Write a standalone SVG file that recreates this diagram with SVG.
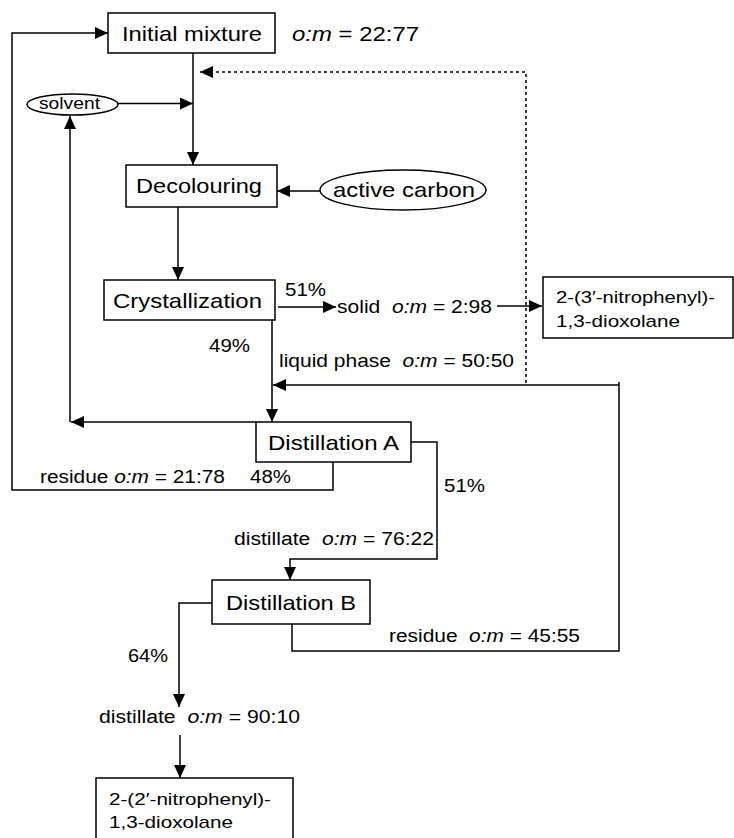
<svg xmlns="http://www.w3.org/2000/svg" width="734" height="838" viewBox="0 0 734 838">
<style>
  text { font-family: "Liberation Sans", Arial, sans-serif; fill: #000; }
  .big { font-size: 21px; }
  .mid { font-size: 18px; }
  .sm { font-size: 17px; }
  .it { font-style: italic; }
  .box { fill: #fff; stroke: #000; stroke-width: 1.5; }
  .ell { fill: #fff; stroke: #000; stroke-width: 1.5; }
  .ln { fill: none; stroke: #000; stroke-width: 1.5; }
  .dot { fill: none; stroke: #000; stroke-width: 1.5; stroke-dasharray: 3 3; }
</style>
<defs>
  <marker id="ah" markerUnits="userSpaceOnUse" markerWidth="13" markerHeight="12" refX="13" refY="6" orient="auto">
    <path d="M0,0 L13,6 L0,12 z" fill="#000"/>
  </marker>
</defs>
<rect width="734" height="838" fill="#fff"/>

<g id="connectors">
  <path class="ln" d="M193,53 V165" marker-end="url(#ah)"/>
  <path class="ln" d="M118,103.5 H193" marker-end="url(#ah)"/>
  <path class="dot" d="M526,383 V72 H200" marker-end="url(#ah)"/>
  <path class="ln" d="M320,191 H277" marker-end="url(#ah)"/>
  <path class="ln" d="M178,207 V280" marker-end="url(#ah)"/>
  <path class="ln" d="M278,307 H336" marker-end="url(#ah)"/>
  <path class="ln" d="M497,306 H542" marker-end="url(#ah)"/>
  <path class="ln" d="M272,320 V422" marker-end="url(#ah)"/>
  <path class="ln" d="M292,624 V651 H619 V382"/>
  <path class="ln" d="M619,385 H273" marker-end="url(#ah)"/>
  <path class="ln" d="M256,422 H71" marker-end="url(#ah)"/>
  <path class="ln" d="M70,422 V116" marker-end="url(#ah)"/>
  <path class="ln" d="M333,462 V490 H12 V33 H108" marker-end="url(#ah)"/>
  <path class="ln" d="M411,442 H437 V559 H290 V580" marker-end="url(#ah)"/>
  <path class="ln" d="M212,603 H179 V707" marker-end="url(#ah)"/>
  <path class="ln" d="M180,735 V778" marker-end="url(#ah)"/>
</g>

<g id="initial-mixture">
  <rect class="box" x="108" y="13" width="167" height="40"/>
  <text class="big" x="122" y="41" textLength="140" lengthAdjust="spacingAndGlyphs">Initial mixture</text>
</g>
<text class="big" x="292" y="41" textLength="127" lengthAdjust="spacingAndGlyphs"><tspan class="it">o:m</tspan> = 22:77</text>

<g id="solvent">
  <ellipse class="ell" cx="72.5" cy="104.5" rx="45.5" ry="10.5"/>
  <text x="39" y="109" font-size="17" textLength="61" lengthAdjust="spacingAndGlyphs">solvent</text>
</g>

<g id="decolouring">
  <rect class="box" x="126" y="165" width="151" height="42"/>
  <text class="big" x="136" y="193" textLength="126" lengthAdjust="spacingAndGlyphs">Decolouring</text>
</g>

<g id="active-carbon">
  <ellipse class="ell" cx="403" cy="190" rx="83" ry="20"/>
  <text class="big" x="333" y="197" textLength="142" lengthAdjust="spacingAndGlyphs">active carbon</text>
</g>

<g id="crystallization">
  <rect class="box" x="104" y="280" width="171" height="40"/>
  <text class="big" x="113" y="308" textLength="149" lengthAdjust="spacingAndGlyphs">Crystallization</text>
</g>

<text class="mid" x="285" y="296" textLength="41" lengthAdjust="spacingAndGlyphs">51%</text>
<text class="mid" x="337" y="313" textLength="155" lengthAdjust="spacingAndGlyphs">solid&#160; <tspan class="it">o:m</tspan> = 2:98</text>

<g id="product-3">
  <rect class="box" x="543" y="277" width="190" height="61"/>
  <text class="sm" x="556" y="303" textLength="159" lengthAdjust="spacingAndGlyphs">2-(3′-nitrophenyl)-</text>
  <text class="sm" x="556" y="327" textLength="124" lengthAdjust="spacingAndGlyphs">1,3-dioxolane</text>
</g>

<text class="mid" x="209" y="352" textLength="41" lengthAdjust="spacingAndGlyphs">49%</text>
<text class="mid" x="279" y="367" textLength="235" lengthAdjust="spacingAndGlyphs">liquid phase&#160; <tspan class="it">o:m</tspan> = 50:50</text>

<g id="distillation-a">
  <rect class="box" x="256" y="422" width="155" height="40"/>
  <text class="big" x="268" y="450" textLength="131" lengthAdjust="spacingAndGlyphs">Distillation A</text>
</g>

<text class="mid" x="40" y="483" textLength="185" lengthAdjust="spacingAndGlyphs">residue <tspan class="it">o:m</tspan> = 21:78</text>
<text class="mid" x="250" y="483" textLength="41" lengthAdjust="spacingAndGlyphs">48%</text>
<text class="mid" x="444" y="492" textLength="41" lengthAdjust="spacingAndGlyphs">51%</text>
<text class="mid" x="234" y="545" textLength="200" lengthAdjust="spacingAndGlyphs">distillate&#160; <tspan class="it">o:m</tspan> = 76:22</text>

<g id="distillation-b">
  <rect class="box" x="212" y="580" width="158" height="44"/>
  <text class="big" x="226" y="610" textLength="130" lengthAdjust="spacingAndGlyphs">Distillation B</text>
</g>

<text class="mid" x="389" y="642" textLength="191" lengthAdjust="spacingAndGlyphs">residue&#160; <tspan class="it">o:m</tspan> = 45:55</text>
<text class="mid" x="128" y="662" textLength="40" lengthAdjust="spacingAndGlyphs">64%</text>
<text class="mid" x="99" y="723" textLength="201" lengthAdjust="spacingAndGlyphs">distillate&#160; <tspan class="it">o:m</tspan> = 90:10</text>

<g id="product-2">
  <rect class="box" x="96" y="778" width="197" height="70"/>
  <text class="sm" x="109" y="805" textLength="162" lengthAdjust="spacingAndGlyphs">2-(2′-nitrophenyl)-</text>
  <text class="sm" x="109" y="828" textLength="124" lengthAdjust="spacingAndGlyphs">1,3-dioxolane</text>
</g>
</svg>
